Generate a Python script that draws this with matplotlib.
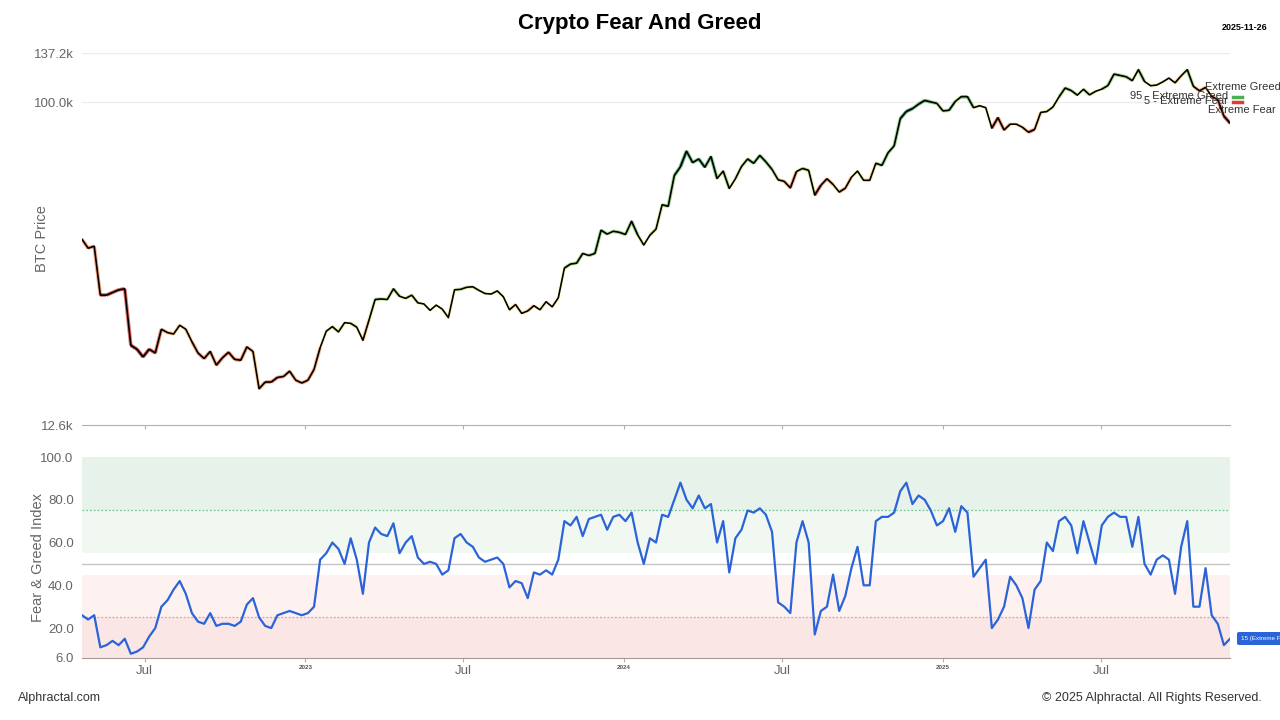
import matplotlib
matplotlib.use("Agg")
import matplotlib.pyplot as plt
import matplotlib.dates as mdates
from matplotlib.collections import LineCollection
from matplotlib.patches import FancyBboxPatch
import numpy as np
import pandas as pd

# ---------------- data (weekly) ----------------
start_date = "2022-04-20"

btc_price = [
    41.5, 39.2, 39.7, 29.0, 29.0, 29.5, 30.0, 30.2, 21.0, 20.5, 19.5, 20.5, 20.0, 23.3, 22.8, 22.6,
    23.9, 23.3, 21.5, 20.0, 19.3, 20.2, 18.5, 19.4, 20.1, 19.2, 19.1, 20.8, 20.2, 15.9, 16.6, 16.6,
    17.1, 17.2, 17.8, 16.8, 16.5,
    16.8, 18.0, 20.7, 23.0, 23.7, 22.9, 24.3, 24.2, 23.6, 21.7, 24.7, 28.2, 28.3, 28.2, 30.2, 28.8,
    28.4, 29.0, 27.6, 27.4, 26.3, 27.2, 26.5, 25.1, 30.0, 30.1, 30.5, 30.6, 29.9, 29.3, 29.2, 29.8,
    28.7, 26.4, 27.3, 25.8, 26.2, 27.1, 26.4, 27.8, 26.9, 28.5, 34.5, 35.4, 35.6, 37.9, 37.4, 37.9,
    44.0, 42.9, 43.7, 43.4,
    42.8, 46.6, 42.7, 40.0, 42.6, 44.3, 51.8, 51.3, 62.5, 66.1, 73.1, 67.9, 69.5, 65.9, 70.6, 61.3,
    64.3, 57.5, 61.2, 66.2, 69.5, 67.6, 71.1, 68.2, 65.0, 60.8, 60.2, 57.7, 64.1, 65.4, 64.6, 55.1,
    58.7, 61.2, 59.0, 56.2, 57.6, 61.8, 64.3, 60.6, 60.6, 67.6, 66.7, 72.3, 75.6, 90.0, 94.3, 96.0,
    98.8, 101.2, 100.2, 99.3,
    94.6, 95.0, 100.5, 103.7, 103.7, 96.6, 97.8, 96.6, 84.7, 90.6, 83.7, 86.9, 86.9, 85.2, 82.5, 84.0,
    93.7, 94.2, 97.0, 103.5, 109.6, 107.8, 104.7, 108.7, 104.9, 107.3, 108.8, 111.3, 119.8, 118.8,
    117.8, 114.9, 123.3, 114.3, 111.2, 111.7, 114.0, 116.8, 113.3, 118.5, 123.3, 110.8, 107.6, 110.0,
    103.9, 101.6, 91.5, 87.5,
]  # thousands USD

fear_greed = [
    26, 24, 26, 11, 12, 14, 12, 15, 8, 9, 11, 16, 20, 30, 33, 38,
    42, 36, 27, 23, 22, 27, 21, 22, 22, 21, 23, 31, 34, 25, 21, 20,
    26, 27, 28, 27, 26,
    27, 30, 52, 55, 60, 57, 50, 62, 52, 36, 60, 67, 64, 63, 69, 55,
    60, 63, 53, 50, 51, 50, 45, 47, 62, 64, 60, 58, 53, 51, 52, 53,
    50, 39, 42, 41, 34, 46, 45, 47, 45, 52, 70, 68, 72, 63, 71, 72,
    73, 66, 72, 73,
    70, 74, 60, 50, 62, 60, 73, 72, 80, 88, 80, 76, 82, 76, 78, 60,
    70, 46, 62, 66, 75, 74, 76, 73, 65, 32, 30, 27, 60, 70, 60, 17,
    28, 30, 45, 28, 35, 48, 58, 40, 40, 70, 72, 72, 74, 84, 88, 78,
    82, 80, 75, 68,
    70, 76, 65, 77, 74, 44, 48, 52, 20, 24, 30, 44, 40, 34, 20, 38,
    42, 60, 56, 70, 72, 68, 55, 70, 60, 50, 68, 72, 74, 72, 72, 58,
    72, 50, 45, 52, 54, 52, 36, 58, 70, 30, 30, 48, 26, 22, 12, 15,
]

x_tick_dates = ["2022-07-01", "2023-01-01", "2023-07-01", "2024-01-01",
                "2024-07-01", "2025-01-01", "2025-07-01"]
x_tick_labels = ["Jul", "2023", "Jul", "2024", "Jul", "2025", "Jul"]
price_ticks = [12.6, 100.0, 137.2]
price_tick_labels = ["12.6k", "100.0k", "137.2k"]
fg_ticks = [6, 20, 40, 60, 80, 100]
fg_tick_labels = ["6.0", "20.0", "40.0", "60.0", "80.0", "100.0"]
last_label = "15 (Extreme Fear)"
report_date = "2025-11-26"

n = min(len(btc_price), len(fear_greed))
dates = pd.date_range(start_date, periods=n, freq="7D")
price = np.array(btc_price[:n]) * 1000.0
fg = np.array(fear_greed[:n], dtype=float)
xd = mdates.date2num(dates)

# ---------------- figure ----------------
plt.rcParams['font.family'] = ['Liberation Sans', 'DejaVu Sans']
fig = plt.figure(figsize=(12.8, 7.2), dpi=100)

L, W = 82 / 1280, (1230 - 82) / 1280
ax1 = fig.add_axes([L, 1 - 425 / 720, W, (425 - 53) / 720])
ax2 = fig.add_axes([L, 1 - 658 / 720, W, (658 - 457) / 720])

xlim = (xd[0], xd[-1])
tick_nums = mdates.date2num(pd.to_datetime(x_tick_dates))

# --- top panel: BTC price ---
ax1.set_yscale("log")
ax1.set_ylim(12600, 137200)
ax1.set_xlim(*xlim)
for s in ["top", "right", "left"]:
    ax1.spines[s].set_visible(False)
ax1.spines["bottom"].set_color("#b0b0b0")
ax1.set_yticks([v * 1000 for v in price_ticks])
ax1.set_yticklabels(price_tick_labels)
ax1.yaxis.set_minor_locator(matplotlib.ticker.NullLocator())
ax1.tick_params(axis="y", length=0, labelsize=9.5, labelcolor="#666666", pad=6)
ax1.set_xticks(tick_nums)
ax1.set_xticklabels([])
ax1.tick_params(axis="x", length=3, color="#b0b0b0")
for v in [100.0, 137.2]:
    ax1.axhline(v * 1000, color="#ececec", lw=0.9, zorder=0)

pts = np.column_stack([xd, price])
segs = np.stack([pts[:-1], pts[1:]], axis=1)
cmap = plt.get_cmap("RdYlGn")
lc = LineCollection(segs, colors=cmap(np.clip((fg[:-1] - 5) / 90, 0, 1)), linewidths=2.6, alpha=0.7, zorder=2)
ax1.add_collection(lc)
ax1.plot(xd, price, color="black", lw=1.2, zorder=3)
ax1.set_ylabel("BTC Price", color="#666666", fontsize=10.5)
ax1.yaxis.set_label_coords((49 - 82) / 1148, 0.5)

# legend-like labels (overlapping as in the reference)
lf = 8
fig.text(1205 / 1280, 1 - 87 / 720, "Extreme Greed", fontsize=lf, color="#333333", va="center")
fig.text(1228 / 1280, 1 - 96 / 720, "95 - Extreme Greed", fontsize=lf, color="#333333", va="center", ha="right")
fig.text(1228 / 1280, 1 - 101 / 720, "5 - Extreme Fear", fontsize=lf, color="#333333", va="center", ha="right")
fig.text(1208 / 1280, 1 - 110 / 720, "Extreme Fear", fontsize=lf, color="#333333", va="center")
fig.lines.append(plt.Line2D([1233 / 1280, 1242 / 1280], [1 - 97 / 720] * 2, color="#4caf50", lw=2.5, transform=fig.transFigure))
fig.lines.append(plt.Line2D([1233 / 1280, 1242 / 1280], [1 - 102 / 720] * 2, color="#e53935", lw=2.5, transform=fig.transFigure))

# --- bottom panel: Fear & Greed ---
ax2.set_xlim(*xlim)
ax2.set_ylim(6, 100)
ax2.axhspan(75, 100, color="#e6f2ea", lw=0, zorder=0)
ax2.axhspan(55, 75, color="#f1f8f2", lw=0, zorder=0)
ax2.axhspan(25, 45, color="#fdf2ef", lw=0, zorder=0)
ax2.axhspan(6, 25, color="#fbe6e6", lw=0, zorder=0)
ax2.axhline(50, color="#c4c4c4", lw=1.0, zorder=1)
ax2.axhline(75, color="#79c595", lw=0.9, ls=(0, (1.5, 1.5)), zorder=1)
ax2.axhline(25, color="#e0a0a0", lw=0.9, ls=(0, (1.5, 1.5)), zorder=1)
ax2.plot(xd, fg, color="#2b63d9", lw=1.6, zorder=3)
for s in ["top", "right", "left"]:
    ax2.spines[s].set_visible(False)
ax2.spines["bottom"].set_color("#a89898")
ax2.set_yticks(fg_ticks)
ax2.set_yticklabels(fg_tick_labels)
ax2.tick_params(axis="y", length=0, labelsize=9.5, labelcolor="#666666", pad=6)
ax2.set_xticks(tick_nums)
ax2.set_xticklabels(x_tick_labels)
ax2.tick_params(axis="x", length=3, color="#b0b0b0", labelcolor="#666666", labelsize=9.5, pad=2)
for lab, txt in zip(ax2.get_xticklabels(), x_tick_labels):
    if txt.isdigit():
        lab.set_fontsize(4.5)
        lab.set_fontweight("bold")
        lab.set_color("#555555")
ax2.set_ylabel("Fear & Greed Index", color="#666666", fontsize=10.5)
ax2.yaxis.set_label_coords((45 - 82) / 1148, 0.5)

# last value badge (cut by the right edge, as in the reference)
badge_x, badge_y = 1237 / 1280, 1 - 645 / 720
box = FancyBboxPatch((badge_x, badge_y), 60 / 1280, 13 / 720, boxstyle="round,pad=0,rounding_size=0.002",
                     transform=fig.transFigure, facecolor="#2b63d9", edgecolor="none")
fig.patches.append(box)
fig.text(badge_x + 4 / 1280, badge_y + 6.5 / 720, last_label, fontsize=4.5, color="white", va="center")

# titles and footer
fig.text(0.5, 1 - 23 / 720, "Crypto Fear And Greed", ha="center", va="center", fontsize=16, fontweight="bold")
fig.text(1267 / 1280, 1 - 28 / 720, report_date, ha="right", va="center", fontsize=6.5, fontweight="bold")
fig.text(18 / 1280, 1 - 698 / 720, "Alphractal.com", ha="left", va="center", fontsize=9, color="#333333")
fig.text(1262 / 1280, 1 - 698 / 720, "© 2025 Alphractal. All Rights Reserved.", ha="right", va="center",
         fontsize=9, color="#333333")

fig.savefig("out.png", dpi=100)
